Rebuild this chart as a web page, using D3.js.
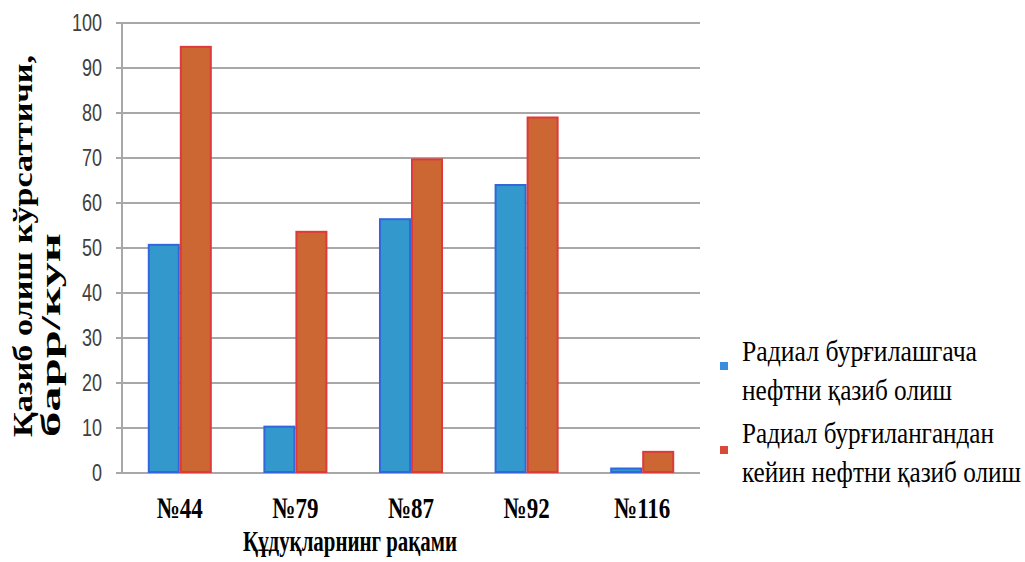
<!DOCTYPE html>
<html>
<head>
<meta charset="utf-8">
<script src="https://cdn.jsdelivr.net/npm/d3@7"></script>
<style>
  body { margin: 0; background: white; }
</style>
</head>
<body>
<div id="chart"></div>
<script>
const wells = ["№44", "№79", "№87", "№92", "№116"];
const beforeValues = [50.7, 10.3, 56.4, 64, 1];
const afterValues = [94.7, 53.6, 69.7, 79, 4.7];
const yTicks = [0, 10, 20, 30, 40, 50, 60, 70, 80, 90, 100];
const seriesNames = ["before", "after"];
const legendLines = [
  ["Радиал бурғилашгача", "нефтни қазиб олиш"],
  ["Радиал бурғилангандан", "кейин нефтни қазиб олиш"]
];
const yTitleLines = ["Қазиб олиш кўрсаттичи,", "барр/кун"];
const xTitle = "Құдуқларнинг рақами";

const W = 1025, H = 562;
const plotLeft = 122, plotRight = 700, plotTop = 23, plotBottom = 473;
const stretch = 1.3;
const serif = "Liberation Serif";

const svg = d3.select("#chart").append("svg")
  .attr("width", W).attr("height", H);

const x0 = d3.scaleBand().domain(wells).range([plotLeft, plotRight])
  .paddingInner(0.446).paddingOuter(0.223);
const x1 = d3.scaleBand().domain(seriesNames).range([0, x0.bandwidth()]);
const y = d3.scaleLinear().domain([0, 100]).range([plotBottom, plotTop]);

const fills = { before: "#3399cc", after: "#cc6633" };
const strokes = { before: "#3366dd", after: "#dd3b3b" };
const legendFills = { before: "#3a8ee0", after: "#d8493a" };

// gridlines
svg.append("g")
  .selectAll("line").data(yTicks).enter().append("line")
  .attr("x1", plotLeft - 6).attr("x2", plotRight)
  .attr("y1", d => y(d)).attr("y2", d => y(d))
  .attr("stroke", "#a8a8a8").attr("stroke-width", 2);

// y axis line
svg.append("line")
  .attr("x1", plotLeft).attr("x2", plotLeft)
  .attr("y1", y(100)).attr("y2", y(0))
  .attr("stroke", "#a8a8a8").attr("stroke-width", 2);

// y tick labels
svg.append("g")
  .selectAll("text").data(yTicks).enter().append("text")
  .attr("transform", d => `translate(102,${y(d) + 8}) scale(1,${stretch})`)
  .attr("text-anchor", "end")
  .style("font-family", "Liberation Sans")
  .style("font-size", "18px")
  .attr("fill", "#404040")
  .text(d => d);

// bars
const rows = wells.map((w, i) => ({ well: w, before: beforeValues[i], after: afterValues[i] }));
const groups = svg.append("g").selectAll("g").data(rows).enter().append("g")
  .attr("transform", d => `translate(${x0(d.well)},0)`);
groups.selectAll("rect")
  .data(d => seriesNames.map(k => ({ key: k, value: d[k] })))
  .enter().append("rect")
  .attr("x", d => x1(d.key) + 1)
  .attr("width", x1.bandwidth() - 2)
  .attr("y", d => y(d.value))
  .attr("height", d => y(0) - y(d.value) - 1)
  .attr("fill", d => fills[d.key])
  .attr("stroke", d => strokes[d.key])
  .attr("stroke-width", 2);

// x labels
svg.append("g").selectAll("text").data(wells).enter().append("text")
  .attr("transform", d => `translate(${x0(d) + x0.bandwidth() / 2},518) scale(1,${stretch})`)
  .attr("text-anchor", "middle")
  .style("font-family", serif).style("font-weight", "bold").style("font-size", "23px")
  .text(d => d);

// x title
svg.append("text")
  .attr("transform", `translate(243,551) scale(1,${stretch})`)
  .attr("textLength", 214).attr("lengthAdjust", "spacingAndGlyphs")
  .style("font-family", serif).style("font-weight", "bold").style("font-size", "23px")
  .text(xTitle);

// y title
const yTitleWidths = [382, 204];
svg.append("g").selectAll("text").data(yTitleLines).enter().append("text")
  .attr("transform", (d, i) => `translate(${32 + i * 28},437) rotate(-90)`)
  .attr("textLength", (d, i) => yTitleWidths[i]).attr("lengthAdjust", "spacingAndGlyphs")
  .style("font-family", serif).style("font-weight", "bold").style("font-size", "27px")
  .text(d => d);

// legend
const legendWidths = [[235, 210], [252, 279]];
const legend = svg.append("g");
seriesNames.forEach((k, i) => {
  legend.append("rect")
    .attr("x", 720).attr("y", 362 + i * 84)
    .attr("width", 8).attr("height", 8)
    .attr("fill", legendFills[k]);
  legendLines[i].forEach((line, j) => {
    legend.append("text")
      .attr("transform", `translate(742,${361 + i * 82 + j * 39}) scale(1,${stretch})`)
      .attr("textLength", legendWidths[i][j]).attr("lengthAdjust", "spacingAndGlyphs")
      .style("font-family", serif).style("font-size", "23px")
      .text(line);
  });
});
</script>
</body>
</html>
